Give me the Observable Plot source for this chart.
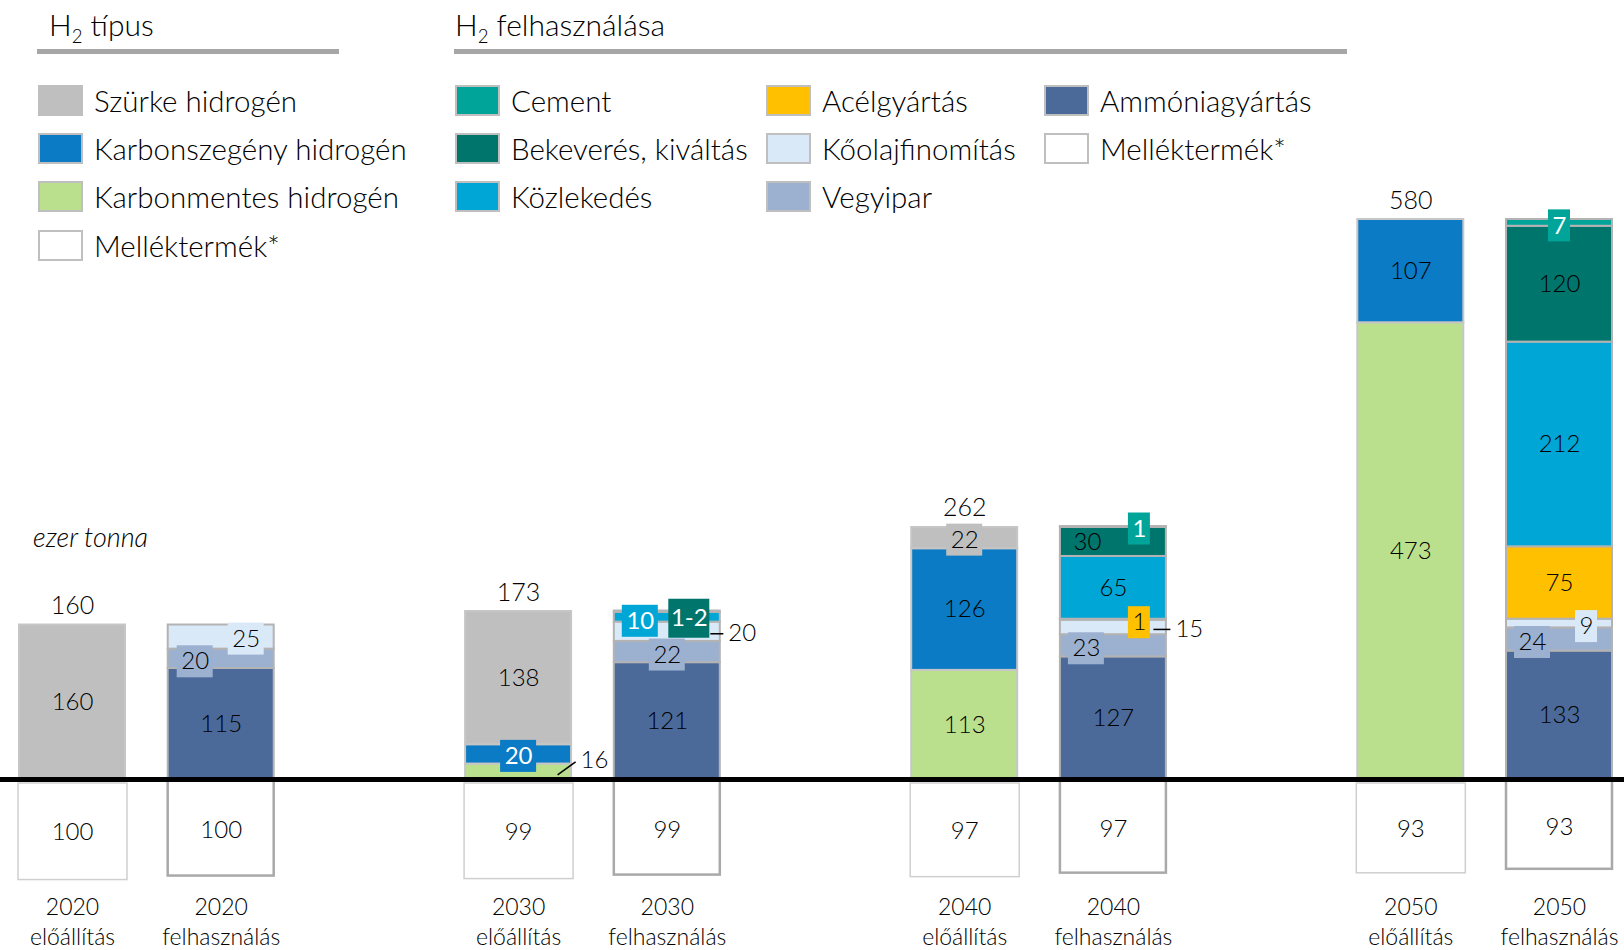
<!DOCTYPE html>
<html>
<head>
<meta charset="utf-8">
<script src="https://cdn.jsdelivr.net/npm/d3@7"></script>
<script src="https://cdn.jsdelivr.net/npm/@observablehq/plot@0.6"></script>
<style>
  html, body { margin: 0; padding: 0; background: #fff; }
  body { font-family: Lato, "Open Sans", sans-serif; color: #000; font-weight: 300; }
  #wrap { position: relative; width: 1624px; height: 950px; overflow: hidden; }
  #wrap svg { position: absolute; left: 0; top: 0; }
  .hdr { position: absolute; font-size: 30px; line-height: 32px; white-space: nowrap; font-weight: 300; }
  .hdr sub { font-size: 0.62em; vertical-align: -0.35em; line-height: 0; }
  .hline { position: absolute; height: 5px; background: #a6a6a6; }
  .lg { position: absolute; display: flex; align-items: center; white-space: nowrap; font-size: 29.5px; }
  .sw { width: 41px; height: 27px; border: 2px solid #bfbfbf; margin-right: 11px; flex: none; }
  .unit { position: absolute; font-style: italic; font-size: 27px; left: 33px; top: 520px; }
</style>
</head>
<body>
<div id="wrap"></div>
<script>
// ---------------- data ----------------
const years = ["2020", "2030", "2040", "2050"];
const kinds = ["előállítás", "felhasználás"];

// H2 típus (production), bottom -> top
const typeSeries = ["Karbonmentes hidrogén", "Karbonszegény hidrogén", "Szürke hidrogén"];
const karbonmentes = [0, 16, 113, 473];
const karbonszegeny = [0, 20, 126, 107];
const szurke = [160, 138, 22, 0];
const prodTotals = [160, 173, 262, 580];

// H2 felhasználása (use), bottom -> top
const useSeries = ["Ammóniagyártás", "Vegyipar", "Kőolajfinomítás", "Acélgyártás", "Közlekedés", "Bekeverés, kiváltás", "Cement"];
const ammonia = [115, 121, 127, 133];
const vegyipar = [20, 22, 23, 24];
const koolaj = [25, 20, 15, 9];
const acel = [0, 0, 1, 75];
const kozlekedes = [0, 10, 65, 212];
const bekeveres = [0, 1.5, 30, 120];
const cement = [0, 0, 1, 7];

// Melléktermék (below the axis), same for both bars of a year
const mellektermek = [100, 99, 97, 93];
const valueText = v => (v === 1.5 ? "1-2" : String(v));

// colours
const byproduct = "Melléktermék*";
const seriesNames = [...typeSeries, ...useSeries, byproduct];
const seriesColors = ["#bbe08d", "#0a7bc4", "#bfbfbf", "#4b6a9a", "#9cb0d0", "#dae9f8", "#ffc000", "#00a6d6", "#00756c", "#00a499", "#ffffff"];

// legend content
const typeLegend = ["Szürke hidrogén", "Karbonszegény hidrogén", "Karbonmentes hidrogén", byproduct];
const useLegendCols = [
  ["Cement", "Bekeverés, kiváltás", "Közlekedés"],
  ["Acélgyártás", "Kőolajfinomítás", "Vegyipar"],
  ["Ammóniagyártás", byproduct]
];

// ---------------- layout / style ----------------
const PX_X = 148.7;   // px per slot
const PX_Y = 0.9655;  // px per thousand tonnes
const ux = px => px / PX_X;
const uy = px => px / PX_Y;
const HALF = ux(53);
const colorOf = s => seriesColors[seriesNames.indexOf(s)];
const whiteOnBox = ["Karbonszegény hidrogén", "Közlekedés", "Bekeverés, kiváltás", "Cement"];

// annotation placement: year index, kind index, series, px offsets
const labelLayout = [
  {y: 0, k: 1, s: "Vegyipar", dx: -26, dy: 3, box: true},
  {y: 0, k: 1, s: "Kőolajfinomítás", dx: 25, dy: 2, box: true},
  {y: 1, k: 0, s: "Karbonmentes hidrogén", ext: {line: [[39, 3], [57, -10]], tx: 62, ty: -11}},
  {y: 1, k: 0, s: "Karbonszegény hidrogén", dx: 0, dy: 2, box: true},
  {y: 1, k: 1, s: "Vegyipar", dx: 0, dy: 3, box: true},
  {y: 1, k: 1, s: "Kőolajfinomítás", ext: {line: [[43, 2], [56, 2]], tx: 61, ty: 2}},
  {y: 1, k: 1, s: "Közlekedés", dx: -27, dy: 4, box: true},
  {y: 1, k: 1, s: "Bekeverés, kiváltás", dx: 22, dy: 7, box: true, h: 39},
  {y: 2, k: 0, s: "Szürke hidrogén", dx: 0, dy: 2, box: true},
  {y: 2, k: 1, s: "Vegyipar", dx: -27, dy: 3, box: true},
  {y: 2, k: 1, s: "Kőolajfinomítás", ext: {line: [[40, 2], [57, 2]], tx: 62, ty: 2}},
  {y: 2, k: 1, s: "Acélgyártás", dx: 26, dy: 3, box: true},
  {y: 2, k: 1, s: "Bekeverés, kiváltás", dx: -26, dy: 0},
  {y: 2, k: 1, s: "Cement", dx: 26, dy: 2, box: true},
  {y: 3, k: 1, s: "Vegyipar", dx: -27, dy: 3, box: true},
  {y: 3, k: 1, s: "Kőolajfinomítás", dx: 27, dy: 3, box: true},
  {y: 3, k: 1, s: "Cement", dx: 0, dy: 3, box: true}
];

// ---------------- derived tables ----------------
const typeValues = [karbonmentes, karbonszegeny, szurke];
const useValues = [ammonia, vegyipar, koolaj, acel, kozlekedes, bekeveres, cement];
const bars = [];
const segs = [];
years.forEach((yr, i) => {
  [[typeSeries, typeValues], [useSeries, useValues]].forEach(([names, vals], k) => {
    const slot = 3 * i + k;
    bars.push({year: yr, kind: kinds[k], k, slot, by: mellektermek[i], total: k === 0 ? prodTotals[i] : null});
    let base = 0;
    names.forEach((s, j) => {
      const v = vals[j][i];
      if (v > 0) {
        segs.push({yi: i, k, slot, series: s, value: v, y1: base, y2: base + v, mid: base + v / 2});
        base += v;
      }
    });
  });
});

const labels = [], boxes = [], leaders = [];
segs.forEach(d => {
  const spec = labelLayout.find(l => l.y === d.yi && l.k === d.k && l.s === d.series);
  const text = valueText(d.value);
  if (spec && spec.ext) {
    const e = spec.ext;
    leaders.push({x1: d.slot + ux(e.line[0][0]), y1: d.mid - uy(e.line[0][1]), x2: d.slot + ux(e.line[1][0]), y2: d.mid - uy(e.line[1][1])});
    labels.push({x: d.slot + ux(e.tx), y: d.mid - uy(e.ty), text, white: false, anchor: "start"});
    return;
  }
  const dx = spec ? spec.dx : 0, dy = spec ? spec.dy : 0;
  const x = d.slot + ux(dx), y = d.mid - uy(dy);
  const isBox = spec && spec.box;
  if (isBox) {
    const w = text.length === 1 ? 22 : text.length === 2 ? 36 : 41;
    const h = spec.h || 32;
    boxes.push({series: d.series, x1: x - ux(w / 2), x2: x + ux(w / 2), y1: y - uy(h / 2), y2: y + uy(h / 2)});
  }
  labels.push({x, y, text, white: !!(isBox && whiteOnBox.includes(d.series)), anchor: "middle"});
});

// ---------------- chart ----------------
const txt = "#000";
const fs = 24;
const chart = Plot.plot({
  width: 1624,
  height: 950,
  margin: 0,
  style: {fontFamily: "Lato, 'Open Sans', sans-serif", fontWeight: 300, background: "transparent", overflow: "visible"},
  x: {type: "linear", domain: [0, 10], range: [72, 1559], axis: null},
  y: {domain: [0, 580], range: [779, 219], axis: null},
  color: {domain: seriesNames, range: seriesColors},
  marks: [
    // by-product boxes below the axis
    Plot.rect(bars.filter(b => b.k === 0), {x1: d => d.slot - HALF - ux(1), x2: d => d.slot + HALF + ux(2), y1: 0, y2: d => -d.by, fill: "#fff", stroke: "#cfcfcf", strokeWidth: 1.5, dy: 4}),
    Plot.rect(bars.filter(b => b.k === 1), {x1: d => d.slot - HALF, x2: d => d.slot + HALF, y1: 0, y2: d => -d.by, fill: "#fff", stroke: "#a9a9a9", strokeWidth: 2.5}),
    Plot.text(bars.filter(b => b.k === 0), {x: "slot", y: d => -d.by / 2, text: d => String(d.by), fontSize: fs, fill: txt, dy: 5}),
    Plot.text(bars.filter(b => b.k === 1), {x: "slot", y: d => -d.by / 2, text: d => String(d.by), fontSize: fs, fill: txt, dy: 3}),
    // stacked segments
    Plot.rect(segs.filter(d => d.k === 0), {x1: d => d.slot - HALF, x2: d => d.slot + HALF, y1: "y1", y2: "y2", fill: "series", stroke: "#c6c6c6", strokeWidth: 2}),
    Plot.rect(segs.filter(d => d.k === 1), {x1: d => d.slot - HALF, x2: d => d.slot + HALF, y1: "y1", y2: "y2", fill: "series", stroke: "#b3b3b3", strokeWidth: 2}),
    // axis line
    Plot.ruleY([0], {stroke: "#000", strokeWidth: 5}),
    // label boxes, leaders, labels
    Plot.rect(boxes, {x1: "x1", x2: "x2", y1: "y1", y2: "y2", fill: "series"}),
    Plot.link(leaders, {x1: "x1", y1: "y1", x2: "x2", y2: "y2", stroke: txt, strokeWidth: 1.5}),
    Plot.text(labels.filter(d => !d.white && d.anchor === "middle"), {x: "x", y: "y", text: "text", fontSize: fs, fill: txt}),
    Plot.text(labels.filter(d => d.anchor === "start"), {x: "x", y: "y", text: "text", fontSize: fs, fill: txt, textAnchor: "start"}),
    Plot.text(labels.filter(d => d.white), {x: "x", y: "y", text: "text", fontSize: fs, fill: "#fff", fontWeight: 400}),
    // totals
    Plot.text(bars.filter(b => b.total != null), {x: "slot", y: "total", text: d => String(d.total), fontSize: 25, fill: txt, dy: -19}),
    // category labels
    Plot.text(bars, {x: "slot", text: "year", frameAnchor: "bottom", dy: -36, fontSize: 23, fill: txt}),
    Plot.text(bars, {x: "slot", text: "kind", frameAnchor: "bottom", dy: -6, fontSize: 23, fill: txt})
  ]
});

const wrap = document.getElementById("wrap");
wrap.appendChild(chart);

// ---------------- headers & legend (HTML) ----------------
function add(html, cls, style) {
  const el = document.createElement("div");
  el.className = cls;
  el.innerHTML = html;
  Object.assign(el.style, style);
  wrap.appendChild(el);
  return el;
}
add("H<sub>2</sub> típus", "hdr", {left: "49px", top: "8px"});
add("", "hline", {left: "37px", top: "49px", width: "302px"});
add("H<sub>2</sub> felhasználása", "hdr", {left: "455px", top: "8px"});
add("", "hline", {left: "454px", top: "49px", width: "893px"});

const rowTops = [100.5, 148, 196.5, 245];
function legendItem(name, left, row) {
  return add(`<div class="sw" style="background:${colorOf(name)}"></div><span>${name}</span>`, "lg", {left: left + "px", top: (rowTops[row] - 16) + "px", height: "32px"});
}
typeLegend.forEach((n, r) => legendItem(n, 38, r));
const colLefts = [455, 766, 1044];
useLegendCols.forEach((col, c) => col.forEach((n, r) => legendItem(n, colLefts[c], r)));

add("ezer tonna", "unit", {});
</script>
</body>
</html>
